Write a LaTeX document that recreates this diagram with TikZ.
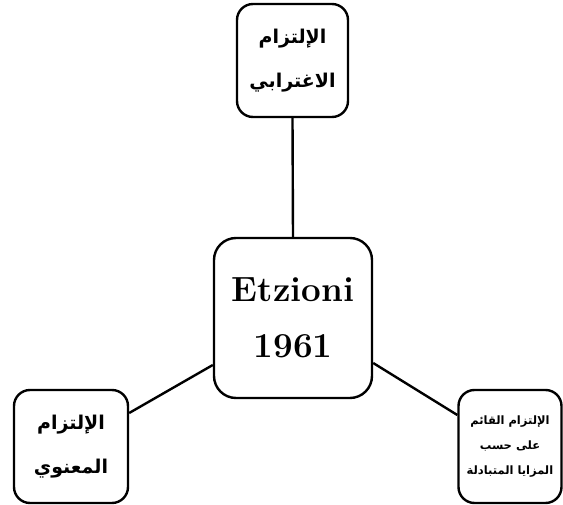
\documentclass[tikz,border=0pt]{standalone}
\usepackage{fontspec}
\newfontfamily\arabicfont[Script=Arabic]{DejaVu Sans}
\TeXXeTstate=1
\begin{document}
\begin{tikzpicture}[x=1pt,y=-1pt,
  box/.style={draw,line width=2.4pt,rounded corners=16pt,align=center,inner sep=0pt},
  hub/.style={box,rounded corners=22pt,font=\fontsize{35}{56}\selectfont\bfseries,
    minimum width=158pt,minimum height=160pt},
  leaf/.style={box,font=\arabicfont\bfseries\fontsize{19}{44}\selectfont},
  small/.style={box,font=\arabicfont\bfseries\fontsize{11.5}{25}\selectfont},
  link/.style={line width=2.4pt}]
\useasboundingbox (0,0) rectangle (563,505);
% central author node
\node[hub] (hub) at (293,318) {Etzioni\\1961};
% the three kinds of commitment
\node[leaf,minimum width=111pt,minimum height=113pt] (top) at (292.5,60.5)
  {\beginR الإلتزام\endR\\\beginR الاغترابي\endR};
\node[leaf,minimum width=114pt,minimum height=113pt] (left) at (71,446.5)
  {\beginR الإلتزام\endR\\\beginR المعنوي\endR};
\node[small,minimum width=103pt,minimum height=113pt] (right) at (510,446.5)
  {\beginR الإلتزام القائم\endR\\\beginR على حسب\endR\\\beginR المزايا المتبادلة\endR};
% connectors
\draw[link] (top.south) -- (hub.north);
\draw[link] ([yshift=33.5pt]left.east) -- ([yshift=-47pt]hub.west);
\draw[link] ([yshift=-45pt]hub.east) -- ([yshift=31.5pt]right.west);
\end{tikzpicture}
\end{document}
